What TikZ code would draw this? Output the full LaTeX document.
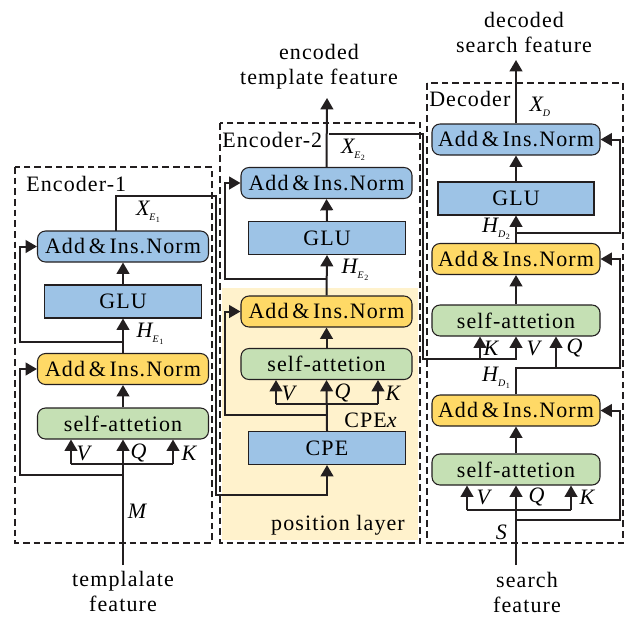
\documentclass[tikz,border=0pt]{standalone}
\usepackage{fontspec}
\setmainfont{Liberation Serif}[LetterSpace=5]
\usetikzlibrary{arrows.meta}
\definecolor{cblue}{HTML}{9DC3E6}
\definecolor{cyel}{HTML}{FFD966}
\definecolor{cgreen}{HTML}{C5E0B4}
\definecolor{cbeige}{HTML}{FFF2CC}
\definecolor{cline}{HTML}{231F20}
\newcommand\vlab[3]{\textit{#1}\kern-1.5pt\raisebox{-4pt}{\fontsize{7.5}{8}\selectfont\textit{#2}\raisebox{-1.5pt}{\fontsize{6}{6}\selectfont #3}}}
\begin{document}
\begin{tikzpicture}[x=0.75pt,y=-0.75pt,
  font=\fontsize{16.5}{18.75}\selectfont,
  rbox/.style={draw=cline, line width=0.8pt, rounded corners=6pt, minimum width=128.25pt, minimum height=23.25pt, inner sep=0pt},
  sbox/.style={draw=cline, line width=0.8pt, fill=cblue, minimum width=117.75pt, minimum height=24.75pt, inner sep=0pt},
  wire/.style={draw=cline, line width=1.5pt},
  arr/.style={wire, -{Triangle[length=8.5pt,width=9.5pt]}},
  frame/.style={draw=cline, line width=1.1pt, dash pattern=on 5pt off 3pt},
  lbl/.style={inner sep=0pt}]
\useasboundingbox (0,0) rectangle (630,617);
\fill[white] (0,0) rectangle (630,617);
% position layer background
\fill[cbeige] (222,288) rectangle (418,540);
% frames
\draw[frame] (15,167) rectangle (212,543);
\draw[frame] (220,123) rectangle (420,543);
\draw[frame] (427,83) rectangle (623,543);
\node[lbl, anchor=west] (t1) at (26,184) {Encoder-1};
\node[lbl, anchor=west] (t2) at (222,140) {Encoder-2};
\node[lbl, anchor=west] (t3) at (429,99) {Decoder};
\node[lbl] (tpl) at (338,525) {position layer};

% ---------- Encoder-1 ----------
\node[rbox, fill=cblue] (e1norm2) at (123,246.5) {Add\,\&\,Ins.Norm};
\node[sbox] (e1glu) at (123,301.5) {GLU};
\node[rbox, fill=cyel] (e1norm1) at (123,369) {Add\,\&\,Ins.Norm};
\node[rbox, fill=cgreen] (e1att) at (123,423.5) {self-attetion};
\coordinate (e1in) at (123,565);
\coordinate (e1v) at (71,464);
\coordinate (e1k) at (173,464);
\draw[arr] (e1in) -- (e1att.south);
\draw[wire] (e1v) -- (e1k);
\draw[arr] (e1v) -- (e1v |- e1att.south);
\draw[arr] (e1k) -- (e1k |- e1att.south);
\coordinate (e1r1) at (123,475);
\draw[arr] (e1r1) -| (20,369) -- (e1norm1.west);
\draw[arr] (e1att.north) -- (e1norm1.south);
\draw[arr] (e1norm1.north) -- (e1glu.south);
\coordinate (e1r2) at (123,342);
\draw[arr] (e1r2) -| (20,246.5) -- (e1norm2.west);
\draw[arr] (e1glu.north) -- (e1norm2.south);
\node[lbl] (lv1) at (85,453) {\textit{V}};
\node[lbl] (lq1) at (139,453) {\textit{Q}};
\node[lbl] (lk1) at (190,453) {\textit{K}};
\node[lbl] (lm) at (138,511) {\textit{M}};
\node[lbl] (lh1) at (150,334) {\vlab{H}{E}{1}};
\node[lbl] (lx1) at (148,212) {\vlab{X}{E}{1}};
\node[lbl, align=center] (tin1) at (123,591) {templalate\\feature};

% ---------- Encoder-2 ----------
\node[rbox, fill=cblue] (e2norm2) at (326.5,183) {Add\,\&\,Ins.Norm};
\node[sbox] (e2glu) at (327,238) {GLU};
\node[rbox, fill=cyel] (e2norm1) at (326.5,311.5) {Add\,\&\,Ins.Norm};
\node[rbox, fill=cgreen] (e2att) at (326.5,364) {self-attetion};
\node[sbox] (cpe) at (327,448) {CPE};
% X_E1 into CPE
\coordinate (e1x) at (116,231);
\draw[arr] (e1x) -- (116,196) -| (216,495) -| (cpe.south);
\draw[arr] (cpe.north) -- (e2att.south);
\coordinate (e2v) at (276,404);
\coordinate (e2k) at (378,404);
\draw[wire] (e2v) -- (e2k);
\draw[arr] (e2v) -- (e2v |- e2att.south);
\draw[arr] (e2k) -- (e2k |- e2att.south);
\coordinate (e2r1) at (327,415);
\draw[arr] (e2r1) -| (225,311.5) -- (e2norm1.west);
\draw[arr] (e2att.north) -- (e2norm1.south);
\draw[arr] (e2norm1.north) -- (e2glu.south);
\coordinate (e2r2) at (327,279);
\draw[arr] (e2r2) -| (225,183) -- (e2norm2.west);
\draw[arr] (e2glu.north) -- (e2norm2.south);
\coordinate (e2out) at (327,98);
\draw[arr] (e2norm2.north) -- (e2out);
\node[lbl] (lv2) at (290,393) {\textit{V}};
\node[lbl] (lq2) at (343,393) {\textit{Q}};
\node[lbl] (lk2) at (394,393) {\textit{K}};
\node[lbl] (lcpex) at (371,420) {CPE\textit{x}};
\node[lbl] (lh2) at (355,270) {\vlab{H}{E}{2}};
\node[lbl] (lx2) at (353,150) {\vlab{X}{E}{2}};
\node[lbl, align=center] (tout1) at (319,67) {encoded\\template feature};

% ---------- Decoder ----------
\node[rbox, fill=cblue, minimum width=126pt] (dnorm3) at (516,139.5) {Add\,\&\,Ins.Norm};
\node[sbox, minimum width=117pt] (dglu) at (516,198.5) {GLU};
\node[rbox, fill=cyel, minimum width=126pt] (dnorm2) at (516,259) {Add\,\&\,Ins.Norm};
\node[rbox, fill=cgreen, minimum width=126pt] (datt2) at (516,320.5) {self-attetion};
\node[rbox, fill=cyel, minimum width=126pt] (dnorm1) at (516,410.5) {Add\,\&\,Ins.Norm};
\node[rbox, fill=cgreen, minimum width=126pt] (datt1) at (516,469.5) {self-attetion};
% X_E2 into decoder cross attention
\coordinate (e2x) at (329,134);
\draw[arr] (e2x) -| (423,359) -| (datt2.south);
\coordinate (d2k) at (480,359);
\draw[arr] (d2k) -- (d2k |- datt2.south);
\coordinate (din) at (516,565);
\draw[arr] (din) -- (datt1.south);
\coordinate (dv) at (467,510);
\coordinate (dk) at (571,510);
\draw[wire] (dv) -- (dk);
\draw[arr] (dv) -- (dv |- datt1.south);
\draw[arr] (dk) -- (dk |- datt1.south);
\coordinate (dr1) at (516,520);
\draw[arr] (dr1) -| (620,410.5) -- (dnorm1.east);
\draw[arr] (datt1.north) -- (dnorm1.south);
\draw[arr] (dnorm1.north) |- (620,368) -- (620,259) -- (dnorm2.east);
\coordinate (d2q) at (556,368);
\draw[arr] (d2q) -- (d2q |- datt2.south);
\draw[arr] (datt2.north) -- (dnorm2.south);
\draw[arr] (dnorm2.north) -- (dglu.south);
\coordinate (dr2) at (516,233);
\draw[arr] (dr2) -| (620,139.5) -- (dnorm3.east);
\draw[arr] (dglu.north) -- (dnorm3.south);
\coordinate (dout) at (516,60);
\draw[arr] (dnorm3.north) -- (dout);
\node[lbl] (ldv) at (485,497) {\textit{V}};
\node[lbl] (ldq) at (537,497) {\textit{Q}};
\node[lbl] (ldk) at (588,497) {\textit{K}};
\node[lbl] (lS) at (502,532) {\textit{S}};
\node[lbl] (ld2k) at (492,348) {\textit{K}};
\node[lbl] (ld2v) at (535,348) {\textit{V}};
\node[lbl] (ld2q) at (575,348) {\textit{Q}};
\node[lbl] (lhd1) at (496,378) {\vlab{H}{D}{1}};
\node[lbl] (lhd2) at (496,229) {\vlab{H}{D}{2}};
\node[lbl] (lxd) at (540,108) {\vlab{X}{D}{}};
\node[lbl, align=center] (tin2) at (527,592) {search\\feature};
\node[lbl, align=center] (tout2) at (524,32) {decoded\\search feature};
\end{tikzpicture}
\end{document}
